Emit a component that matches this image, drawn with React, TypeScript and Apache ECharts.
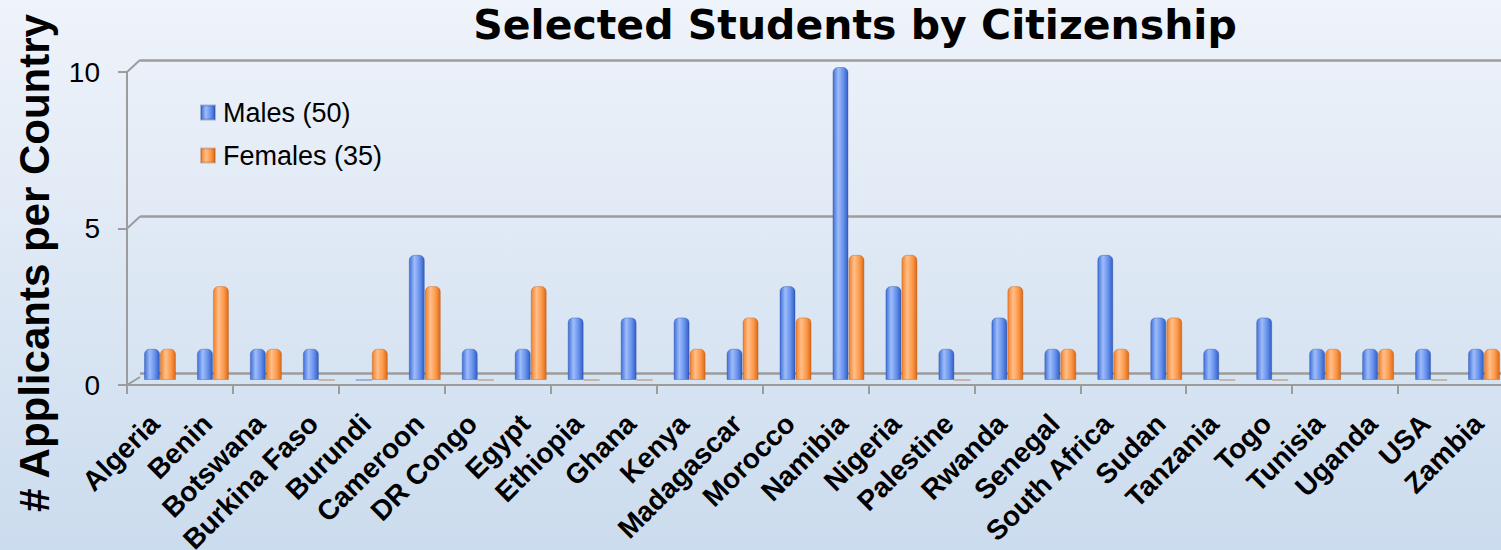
import React, { useEffect, useRef } from "react";
import * as echarts from "echarts";

const countries = [
  "Algeria", "Benin", "Botswana", "Burkina Faso", "Burundi", "Cameroon", "DR Congo",
  "Egypt", "Ethiopia", "Ghana", "Kenya", "Madagascar", "Morocco", "Namibia", "Nigeria",
  "Palestine", "Rwanda", "Senegal", "South Africa", "Sudan", "Tanzania", "Togo",
  "Tunisia", "Uganda", "USA", "Zambia",
];
const males = [1, 1, 1, 1, 0, 4, 1, 1, 2, 2, 2, 1, 3, 10, 3, 1, 2, 1, 4, 2, 1, 2, 1, 1, 1, 1];
const females = [1, 3, 1, 0, 1, 3, 0, 3, 0, 0, 1, 2, 2, 4, 4, 0, 3, 1, 1, 2, 0, 0, 1, 1, 0, 1];
const seriesNames = ["Males (50)", "Females (35)"];
const titleText = "Selected Students by Citizenship";
const yTitle = "# Applicants per Country";

const W = 1501;
const H = 550;
// front plane
const FL = 127, FR = 1504, FT = 72, FB = 385;
// back wall offset
const DX = 13, DY = -12;
// bars at mid depth
const BX = 6.5, BY = -5;
// labels offset
const LX = 1;

export default function App() {
  const ref = useRef<HTMLDivElement>(null);
  useEffect(() => {
    const chart = echarts.init(ref.current!, undefined, { renderer: "svg" });
    const grid = (dx: number, dy: number) => ({
      left: FL + dx,
      right: W - (FR + dx),
      top: FT + dy,
      bottom: H - (FB + dy),
      containLabel: false,
      outerBoundsMode: "none",
    });
    const blueGrad = new echarts.graphic.LinearGradient(0, 0, 1, 0, [
      { offset: 0, color: "#3f70da" },
      { offset: 0.35, color: "#9ebcf9" },
      { offset: 0.7, color: "#6590ec" },
      { offset: 1, color: "#315ec4" },
    ]);
    const orangeGrad = new echarts.graphic.LinearGradient(0, 0, 1, 0, [
      { offset: 0, color: "#f0802a" },
      { offset: 0.35, color: "#ffbf8a" },
      { offset: 0.7, color: "#fd9848" },
      { offset: 1, color: "#db6a18" },
    ]);
    const hidden = { show: false };
    const yBase = { type: "value", min: 0, max: 10, interval: 5 };
    const xBase = { type: "category", data: countries };
    const gray = "#9c9c9c";
    chart.setOption({
      animation: false,
      backgroundColor: new echarts.graphic.LinearGradient(0, 0, 0, 1, [
        { offset: 0, color: "#eff3fa" },
        { offset: 1, color: "#cbdcee" },
      ]),
      legend: {
        orient: "vertical",
        left: 195,
        top: 94,
        itemWidth: 14,
        itemHeight: 14,
        itemGap: 16,
        icon: "rect",
        data: seriesNames,
        textStyle: {
          fontFamily: "Liberation Sans, Arial, sans-serif",
          fontSize: 27,
          color: "#000",
          padding: [0, 0, 0, 3],
        },
      },
      grid: [grid(0, 0), grid(DX, DY), grid(BX, BY), grid(LX, 0)],
      xAxis: [
        {
          ...xBase,
          gridIndex: 0,
          axisLine: { show: true, lineStyle: { color: gray, width: 2 } },
          axisTick: { show: true, length: 9, lineStyle: { color: gray, width: 2 } },
          axisLabel: hidden,
        },
        { ...xBase, gridIndex: 1, axisLine: hidden, axisTick: hidden, axisLabel: hidden },
        { ...xBase, gridIndex: 2, axisLine: hidden, axisTick: hidden, axisLabel: hidden },
        {
          ...xBase,
          gridIndex: 3,
          axisLine: hidden,
          axisTick: hidden,
          axisLabel: {
            show: true,
            interval: 0,
            rotate: 45,
            margin: 34,
            fontFamily: "Liberation Sans, Arial, sans-serif",
            fontWeight: "bold",
            fontSize: 28,
            color: "#000",
          },
        },
      ],
      yAxis: [
        {
          ...yBase,
          gridIndex: 0,
          axisLine: { show: true, lineStyle: { color: gray, width: 2 } },
          axisTick: { show: true, length: 9, lineStyle: { color: gray, width: 2 } },
          splitLine: hidden,
          axisLabel: {
            margin: 27,
            fontFamily: "Liberation Sans, Arial, sans-serif",
            fontSize: 28,
            color: "#000",
          },
        },
        {
          ...yBase,
          gridIndex: 1,
          axisLine: hidden,
          axisTick: hidden,
          axisLabel: hidden,
          splitLine: { show: true, lineStyle: { color: gray, width: 2.5 } },
        },
        { ...yBase, gridIndex: 2, axisLine: hidden, axisTick: hidden, axisLabel: hidden, splitLine: hidden },
        { ...yBase, gridIndex: 3, axisLine: hidden, axisTick: hidden, axisLabel: hidden, splitLine: hidden },
      ],
      series: [
        {
          name: seriesNames[0],
          type: "bar",
          xAxisIndex: 2,
          yAxisIndex: 2,
          data: males,
          barWidth: 16,
          barGap: "0%",
          itemStyle: { color: blueGrad, borderColor: "rgba(40,70,150,0.35)", borderWidth: 1, borderRadius: [5, 5, 0, 0] },
        },
        {
          name: seriesNames[1],
          type: "bar",
          xAxisIndex: 2,
          yAxisIndex: 2,
          data: females,
          barWidth: 16,
          barGap: "0%",
          itemStyle: { color: orangeGrad, borderColor: "rgba(170,80,20,0.35)", borderWidth: 1, borderRadius: [5, 5, 0, 0] },
        },
      ],
      graphic: [
        ...[FT, (FT + FB) / 2, FB].map((y) => ({
          type: "line",
          shape: { x1: FL, y1: y, x2: FL + DX, y2: y + DY + (y === FB ? 4 : 0) },
          style: { stroke: gray, lineWidth: 2 },
          silent: true,
        })),
        {
          type: "text",
          x: 855,
          y: 25,
          style: {
            text: titleText,
            fontFamily: "DejaVu Sans, sans-serif",
            fontWeight: "bold",
            fontSize: 41,
            fill: "#000",
            align: "center",
            verticalAlign: "middle",
          },
        },
        {
          type: "text",
          x: 34,
          y: 263,
          rotation: Math.PI / 2,
          style: {
            text: yTitle,
            fontFamily: "Liberation Sans, Arial, sans-serif",
            fontWeight: "bold",
            fontSize: 42,
            fill: "#000",
            align: "center",
            verticalAlign: "middle",
          },
        },
      ],
    });
    return () => chart.dispose();
  }, []);
  return (
    <div
      ref={ref}
      style={{ position: "fixed", left: 0, top: 0, width: W + "px", height: H + "px" }}
    />
  );
}
